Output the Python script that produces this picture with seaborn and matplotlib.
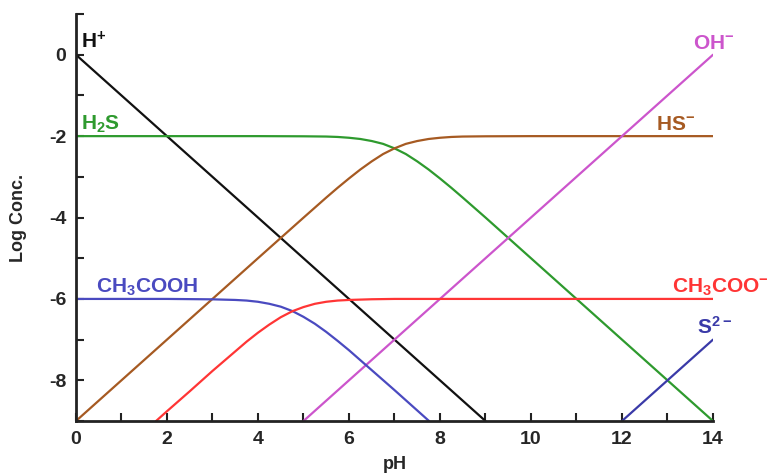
import matplotlib
matplotlib.use("Agg")
import matplotlib.pyplot as plt
import seaborn as sns
import pandas as pd
from matplotlib.ticker import MultipleLocator

sns.set_style("white")
plt.rcParams['font.family'] = ['Liberation Sans', 'DejaVu Sans']
plt.rcParams['mathtext.fontset'] = 'custom'
plt.rcParams['mathtext.bf'] = 'Liberation Sans:bold'
plt.rcParams['mathtext.rm'] = 'Liberation Sans:bold'

# Data (pH vs log concentration)
h_ph = [0, 9]
h_log = [0, -9]

oh_ph = [5, 14]
oh_log = [-9, 0]

h2s_ph = [0, 1, 2, 3, 4, 5, 5.5, 5.75, 6, 6.25, 6.5, 6.75, 7, 7.25, 7.5, 7.75, 8, 8.25, 8.5, 9, 10, 11, 12, 13, 14]
h2s_log = [-2, -2, -2, -2, -2, -2.004, -2.01, -2.02, -2.04, -2.07, -2.12, -2.19, -2.30, -2.44, -2.62, -2.82,
           -3.04, -3.27, -3.51, -4.00, -5, -6, -7, -8, -9]

hs_ph = [0, 1, 2, 3, 4, 5, 5.5, 5.75, 6, 6.25, 6.5, 6.75, 7, 7.25, 7.5, 7.75, 8, 8.25, 8.5, 9, 10, 11, 12, 13, 14]
hs_log = [-9, -8, -7, -6, -5, -4.004, -3.51, -3.27, -3.04, -2.82, -2.62, -2.44, -2.30, -2.19, -2.12, -2.07,
          -2.04, -2.02, -2.01, -2.004, -2, -2, -2, -2, -2]

hac_ph = [0, 1, 2, 3, 3.5, 3.75, 4, 4.25, 4.5, 4.76, 5, 5.25, 5.5, 5.75, 6, 6.5, 7, 7.76]
hac_log = [-6, -6, -6.0, -6.01, -6.025, -6.04, -6.07, -6.12, -6.19, -6.30, -6.44, -6.61, -6.81, -7.03, -7.26,
           -7.75, -8.24, -9.0]

ac_ph = [1.76, 2, 2.5, 3, 3.5, 3.75, 4, 4.25, 4.5, 4.76, 5, 5.25, 5.5, 5.75, 6, 6.5, 7, 8, 10, 12, 14]
ac_log = [-9.0, -8.76, -8.27, -7.77, -7.29, -7.05, -6.83, -6.63, -6.45, -6.30, -6.20, -6.12, -6.07, -6.04,
          -6.025, -6.008, -6.0, -6, -6, -6, -6]

s_ph = [12, 14]
s_log = [-9, -7]

series = [
    ("H+", h_ph, h_log, "#111111"),
    ("H2S", h2s_ph, h2s_log, "#2e9a2e"),
    ("HS-", hs_ph, hs_log, "#a65a22"),
    ("OH-", oh_ph, oh_log, "#cc55cc"),
    ("CH3COOH", hac_ph, hac_log, "#4a4ac0"),
    ("CH3COO-", ac_ph, ac_log, "#ff3535"),
    ("S2-", s_ph, s_log, "#3a3aa8"),
]

frames = []
for name, x, y, c in series:
    frames.append(pd.DataFrame({"pH": x, "log": y, "species": name}))
df = pd.concat(frames, ignore_index=True)
palette = {name: c for name, _, _, c in series}

fig = plt.figure(figsize=(7.75, 4.76), dpi=100)
ax = fig.add_axes([0.098, 0.1155, 0.822, 0.855])

sns.lineplot(data=df, x="pH", y="log", hue="species", palette=palette,
             estimator=None, sort=False, linewidth=1.6, legend=False, ax=ax)

ax.set_xlim(0, 14)
ax.set_ylim(-9, 1)
ax.xaxis.set_major_locator(MultipleLocator(2))
ax.xaxis.set_minor_locator(MultipleLocator(1))
ax.set_yticks([0, -2, -4, -6, -8])
ax.set_yticklabels(["0", "-2", "-4", "-6", "-8"])
ax.yaxis.set_minor_locator(MultipleLocator(1))
ax.tick_params(which="both", direction="in", width=1.5, color="#222222")
ax.tick_params(which="major", length=6, labelsize=14, pad=7)
ax.tick_params(which="minor", length=6)
ax.tick_params(axis="x", which="both", bottom=True)
ax.tick_params(axis="y", which="both", left=True)
for lab in ax.get_xticklabels() + ax.get_yticklabels():
    lab.set_fontweight("bold")

for s in ["top", "right"]:
    ax.spines[s].set_visible(False)
for s in ["left", "bottom"]:
    ax.spines[s].set_linewidth(2)
    ax.spines[s].set_color("#222222")

ax.set_xlabel("pH", fontsize=13, fontweight="bold", labelpad=6)
ax.set_ylabel("Log Conc.", fontsize=13, fontweight="bold", labelpad=16)

lab_kw = dict(fontsize=15, fontweight="bold", clip_on=False)
ax.text(0.12, 0.15, r"$\mathbf{H^{+}}$", color="#111111", **lab_kw)
ax.text(0.12, -1.85, r"$\mathbf{H_{2}S}$", color="#2e9a2e", **lab_kw)
ax.text(0.45, -5.85, r"$\mathbf{CH_{3}COOH}$", color="#4a4ac0", **lab_kw)
ax.text(13.55, 0.15, r"$\mathbf{OH^{-}}$", color="#cc55cc", **lab_kw)
ax.text(12.75, -1.85, r"$\mathbf{HS^{-}}$", color="#a65a22", **lab_kw)
ax.text(13.1, -5.85, r"$\mathbf{CH_{3}COO^{-}}$", color="#ff3535", **lab_kw)
ax.text(13.65, -6.85, r"$\mathbf{S^{2-}}$", color="#3a3aa8", **lab_kw)

fig.savefig("out.png", dpi=100)
